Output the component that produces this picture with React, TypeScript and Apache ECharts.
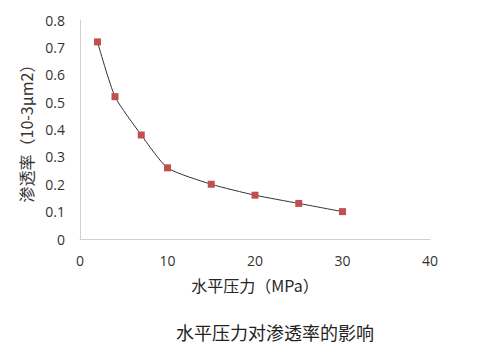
import React, { useEffect, useRef } from "react";
import * as echarts from "echarts";

const pressure = [2, 4, 7, 10, 15, 20, 25, 30];
const permeability = [0.72, 0.52, 0.38, 0.26, 0.2, 0.16, 0.13, 0.1];
const xTicks = [0, 10, 20, 30, 40];
const yTicks = [0, 0.1, 0.2, 0.3, 0.4, 0.5, 0.6, 0.7, 0.8];
const xName = "水平压力（MPa）";
const yName = "渗透率（10-3μm2）";
const title = "水平压力对渗透率的影响";

const FONT = "'Open Sans', 'Noto Sans CJK SC', sans-serif";
const CJK = "'Noto Sans CJK SC', sans-serif";

export default function App() {
  const ref = useRef<HTMLDivElement>(null);
  useEffect(() => {
    document.body.style.margin = "0";
    const chart = echarts.init(ref.current!, undefined, { renderer: "svg" });
    chart.setOption({
      animation: false,
      backgroundColor: "#ffffff",
      textStyle: { fontFamily: FONT },
      title: {
        text: title,
        left: 171,
        top: 318,
        textStyle: { fontSize: 18, fontWeight: "normal", color: "#222222", fontFamily: CJK },
      },
      grid: { left: 80, right: 55, top: 20, bottom: 115 },
      xAxis: {
        type: "value",
        min: xTicks[0],
        max: xTicks[xTicks.length - 1],
        interval: 10,
        name: xName,
        nameLocation: "middle",
        nameGap: 38,
        nameTextStyle: { fontSize: 16, color: "#262626", fontFamily: CJK },
        axisLine: { show: true, lineStyle: { color: "#d0d0d0", width: 1 } },
        axisTick: { show: false },
        splitLine: { show: false },
        axisLabel: { fontSize: 14, color: "#333333", margin: 14 },
      },
      yAxis: {
        type: "value",
        min: yTicks[0],
        max: yTicks[yTicks.length - 1],
        interval: 0.1,
        name: yName,
        nameLocation: "middle",
        nameGap: 46,
        nameTextStyle: { fontSize: 16, color: "#333333", fontFamily: CJK },
        axisLine: { show: true, lineStyle: { color: "#d0d0d0", width: 1 } },
        axisTick: { show: false },
        splitLine: { show: false },
        axisLabel: { fontSize: 14, color: "#333333", margin: 15 },
      },
      series: [
        {
          type: "line",
          data: pressure.map((p, i) => [p, permeability[i]]),
          smooth: 0.2,
          symbol: "rect",
          symbolSize: 7,
          lineStyle: { color: "#333333", width: 1 },
          itemStyle: { color: "#c0504d" },
        },
      ],
    });
    return () => chart.dispose();
  }, []);
  return <div ref={ref} style={{ width: 485, height: 354 }} />;
}
